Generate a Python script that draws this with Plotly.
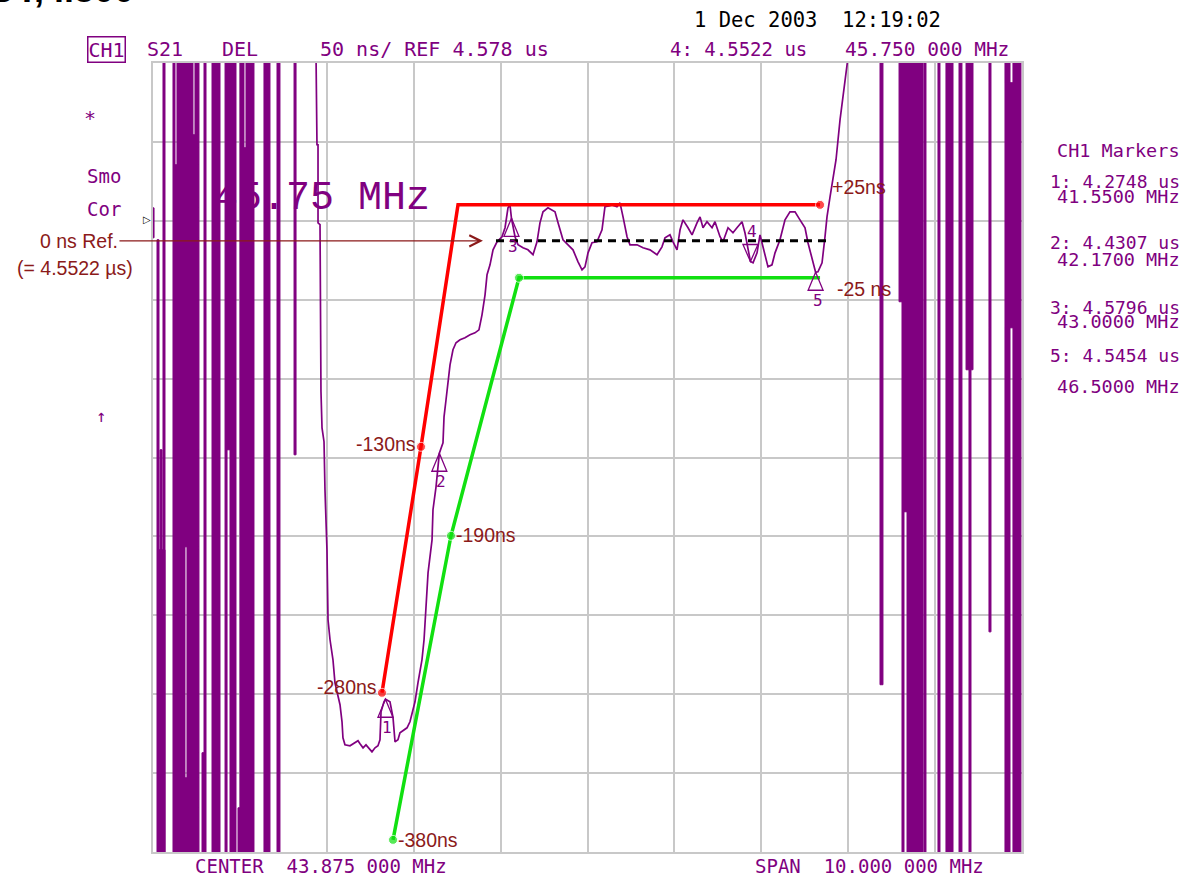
import plotly.graph_objects as go

# ---------------- data ----------------
CENTER_MHZ = 43.875
SPAN_MHZ = 10.0
REF_NS = 4578.0          # reference value (4.578 us)
SCALE_NS = 50.0          # ns / division
REF_POS = 8              # reference line position (division from bottom)

# measured group-delay trace (MHz, ns)
trace_f = [40.751, 40.762, 40.774, 40.774, 40.797, 40.808, 40.820, 40.843, 40.854, 40.877,
           40.889, 40.912, 40.946, 40.969, 41.027, 41.050, 41.061, 41.084, 41.142, 41.200,
           41.234, 41.257, 41.292, 41.326, 41.361, 41.395, 41.430, 41.464, 41.487, 41.499,
           41.533, 41.550, 41.602, 41.637, 41.660, 41.694, 41.717, 41.763, 41.798, 41.832,
           41.855, 41.890, 41.924, 41.970, 41.994, 42.017, 42.040, 42.086, 42.097, 42.132,
           42.170, 42.212, 42.224, 42.247, 42.270, 42.293, 42.327, 42.362, 42.408, 42.465,
           42.523, 42.580, 42.626, 42.661, 42.696, 42.719, 42.753, 42.788, 42.834, 42.891,
           42.926, 42.960, 42.983, 43.000, 43.041, 43.075, 43.133, 43.190, 43.248, 43.294,
           43.328, 43.363, 43.420, 43.467, 43.501, 43.536, 43.593, 43.651, 43.708, 43.766,
           43.812, 43.846, 43.881, 43.927, 43.984, 44.042, 44.076, 44.122, 44.157, 44.214,
           44.249, 44.284, 44.330, 44.364, 44.445, 44.514, 44.594, 44.675, 44.732, 44.767,
           44.824, 44.859, 44.905, 44.940, 44.974, 45.032, 45.078, 45.135, 45.170, 45.204,
           45.250, 45.308, 45.342, 45.400, 45.434, 45.492, 45.549, 45.595, 45.653, 45.687,
           45.722, 45.750, 45.780, 45.826, 45.860, 45.895, 45.952, 45.998, 46.033, 46.090,
           46.148, 46.205, 46.263, 46.320, 46.378, 46.412, 46.458, 46.500, 46.527, 46.574,
           46.608, 46.631, 46.666, 46.700, 46.735, 46.781, 46.815, 46.861, 46.884]
trace_d = [4683.2, 4626.2, 4626.2, 4576.7, 4575.5, 4469.6, 4446.8, 4438.0, 4407.5, 4369.5,
           4325.2, 4312.5, 4299.8, 4285.2, 4271.3, 4260.5, 4250.4, 4245.9, 4245.3, 4247.2,
           4248.5, 4246.6, 4244.0, 4245.9, 4243.4, 4241.5, 4244.0, 4245.3, 4249.1, 4266.9,
           4273.2, 4274.8, 4273.2, 4263.1, 4247.8, 4249.1, 4253.5, 4255.4, 4256.7, 4260.5,
           4265.0, 4273.2, 4285.2, 4299.8, 4312.5, 4337.8, 4354.9, 4375.8, 4394.9, 4409.4,
           4430.7, 4437.3, 4453.8, 4464.6, 4477.2, 4486.7, 4496.3, 4500.7, 4502.6, 4503.9,
           4505.8, 4507.0, 4508.9, 4518.4, 4531.1, 4543.8, 4550.1, 4559.6, 4564.7, 4567.9,
           4573.6, 4586.2, 4588.1, 4579.6, 4567.9, 4562.8, 4560.9, 4559.6, 4556.5, 4564.7,
           4576.7, 4583.7, 4586.2, 4585.0, 4583.7, 4576.7, 4566.0, 4562.8, 4559.6, 4552.0,
           4546.9, 4548.8, 4557.7, 4564.1, 4564.7, 4572.3, 4586.9, 4587.5, 4588.1, 4586.9,
           4589.4, 4580.5, 4567.9, 4562.8, 4562.8, 4560.9, 4559.6, 4556.5, 4561.5, 4567.2,
           4569.1, 4564.7, 4559.6, 4572.3, 4578.6, 4573.6, 4569.1, 4576.7, 4580.5, 4573.6,
           4577.4, 4573.6, 4577.4, 4567.9, 4564.7, 4573.6, 4570.4, 4573.6, 4577.4, 4570.4,
           4561.5, 4552.2, 4551.4, 4557.7, 4569.1, 4561.5, 4548.8, 4550.1, 4557.7, 4566.0,
           4578.6, 4583.7, 4583.7, 4578.6, 4573.6, 4564.1, 4555.2, 4545.4, 4545.7, 4551.4,
           4567.9, 4580.5, 4593.2, 4605.9, 4616.7, 4642.0, 4657.8, 4678.1, 4686.4]

# out-of-band noise strokes: (f_start, f_end, delay_low, delay_high)
noise_f0 = [38.864, 38.921, 38.990, 38.933, 38.956, 39.105, 39.128, 39.151, 39.243, 39.243,
            39.266, 39.335, 39.358, 39.439, 39.462, 39.554, 39.704, 39.727, 39.761, 39.853,
            39.876, 39.899, 39.922, 39.945, 40.152, 40.302, 40.498,
            47.241, 47.460, 47.494, 47.517, 47.552, 47.747, 47.908, 48.000, 48.150, 48.231,
            48.265, 48.495, 48.679, 48.737, 48.771]
noise_f1 = [38.887, 38.944, 39.013, 39.013, 38.979, 39.128, 39.163, 39.243, 39.266, 39.266,
            39.335, 39.358, 39.404, 39.462, 39.485, 39.646, 39.727, 39.761, 39.830, 39.899,
            39.899, 39.922, 39.945, 40.037, 40.221, 40.336, 40.521,
            47.275, 47.552, 47.517, 47.552, 47.736, 47.770, 47.931, 48.081, 48.184, 48.311,
            48.288, 48.518, 48.737, 48.771, 48.863]
noise_lo = [4567.2, 4150, 4150, 4150, 4369.5, 4150, 4150, 4150, 4371.4, 4150,
            4150, 4150, 4150, 4150, 4150, 4150, 4150, 4432.9, 4150, 4150,
            4150, 4150, 4150, 4150, 4150, 4150, 4429.7,
            4284.0, 4526.7, 4150, 4393.6, 4150, 4150, 4150, 4150, 4150, 4483.6,
            4150, 4317.5, 4150, 4510.2, 4150]
noise_hi = [4586.2, 4566.0, 4700, 4369.5, 4432.9, 4700, 4613.5, 4700, 4700, 4225.0,
            4700, 4632.5, 4700, 4240.9, 4700, 4700, 4700, 4700, 4700, 4206.0,
            4700, 4700, 4624.3, 4700, 4700, 4700, 4700,
            4700, 4700, 4526.7, 4526.7, 4700, 4700, 4700, 4700, 4700, 4700,
            4483.6, 4700, 4700, 4665.5, 4700]

# markers
marker_id = [1, 2, 3, 4, 5]
marker_f = [41.55, 42.17, 43.00, 45.75, 46.50]
marker_d = [4274.8, 4430.7, 4579.6, 4552.2, 4545.4]
ACTIVE = 4

# limit (mask) lines
red_f = [41.510, 41.959, 42.385, 46.551]
red_d = [4278.9, 4434.8, 4588.1, 4588.1]
red_dot = [True, True, False, True]
red_lbl = ["-280ns", "-130ns", "", "+25ns"]
green_f = [41.637, 42.304, 43.087, 46.551]
green_d = [4185.7, 4378.4, 4541.9, 4541.9]
green_dot = [True, True, True, False]
green_lbl = ["-380ns", "-190ns", "", "-25 ns"]
zero_ref_f = [42.822, 46.620]
zero_ref_d = [4565.3, 4565.3]
ZERO_REF_US = 4.5522

# ---------------- styling ----------------
W, H = 1189, 877
L, R, T, B = 153, 1022, 63, 852
PURPLE = "#800080"
DRED = "#8b1a1a"
MONO = "DejaVu Sans Mono"
SANS = "Liberation Sans, Arial"

fmin = CENTER_MHZ - SPAN_MHZ / 2
fmax = CENTER_MHZ + SPAN_MHZ / 2
dmin = REF_NS - REF_POS * SCALE_NS
dmax = dmin + 10 * SCALE_NS

fig = go.Figure()

# noise strokes as filled rectangles
nx, ny = [], []
for a, b, lo, hi in zip(noise_f0, noise_f1, noise_lo, noise_hi):
    nx += [a, b, b, a, a, None]
    ny += [lo, lo, hi, hi, lo, None]
fig.add_trace(go.Scatter(x=nx, y=ny, mode="lines", fill="toself", fillcolor=PURPLE,
                         line=dict(color=PURPLE, width=1), hoverinfo="skip", showlegend=False))

fig.add_trace(go.Scatter(x=trace_f, y=trace_d, mode="lines",
                         line=dict(color=PURPLE, width=1.7), showlegend=False))

fig.add_trace(go.Scatter(x=zero_ref_f, y=zero_ref_d, mode="lines",
                         line=dict(color="black", width=3, dash="8px,6px"), showlegend=False))

for fx, dy, dots, col in [(red_f, red_d, red_dot, "#ff0000"), (green_f, green_d, green_dot, "#11e011")]:
    fig.add_trace(go.Scatter(x=fx, y=dy, mode="lines+markers",
                             line=dict(color=col, width=3.5),
                             marker=dict(size=[9 if s else 0 for s in dots], color=col),
                             showlegend=False))

shapes = [dict(type="line", xref="paper", yref="y", x0=0, x1=1, y0=REF_NS, y1=REF_NS,
               line=dict(color="#222222", width=1.6), layer="below")]
for mid, mf, md in zip(marker_id, marker_f, marker_d):
    if mid == ACTIVE:
        path = "M0,0L-7.5,17L7.5,17Z"
    else:
        path = "M0,0L-7.5,-18L7.5,-18Z"
    shapes.append(dict(type="path", xref="x", yref="y", xsizemode="pixel", ysizemode="pixel",
                       xanchor=mf, yanchor=md, path=path, line=dict(color=PURPLE, width=1.3)))


def px(x):
    return (x - L) / (R - L)


def py(y):
    return (B - y) / (B - T)


def ann(text, x, y, xanchor="left", size=19, color=PURPLE, family=MONO, **kw):
    return dict(text=text, x=px(x), y=py(y), xref="paper", yref="paper", xanchor=xanchor,
                yanchor="middle", showarrow=False, font=dict(family=family, size=size, color=color), **kw)


annotations = []
# mask labels (offsets in pixels)
lbl_pos = {"-280ns": ("right", -3, 6), "-130ns": ("right", -3, 3), "+25ns": ("left", 10, 18),
           "-25 ns": ("left", 15, -11), "-380ns": ("left", 3, 0), "-190ns": ("left", 3, 1)}
for fx, dy, lbl in [(red_f, red_d, red_lbl), (green_f, green_d, green_lbl)]:
    for f, d, t in zip(fx, dy, lbl):
        if not t:
            continue
        xa, xs, ys = lbl_pos[t]
        annotations.append(dict(text=t, x=f, y=d, xref="x", yref="y", xanchor=xa, yanchor="middle",
                                xshift=xs, yshift=ys, showarrow=False,
                                font=dict(family=SANS, size=19.5, color=DRED)))

# marker numbers
for mid, mf, md in zip(marker_id, marker_f, marker_d):
    annotations.append(dict(text=str(mid), x=mf, y=md, xref="x", yref="y", showarrow=False,
                            xshift=2, yshift=(30 if mid == ACTIVE else -28),
                            font=dict(family=MONO, size=16, color=PURPLE)))

# 0 ns reference arrow
annotations.append(dict(text="", x=42.672, y=zero_ref_d[0], xref="x", yref="y", showarrow=True,
                        ax=-365, ay=0, arrowhead=5, arrowsize=1.7, arrowwidth=1.3, arrowcolor=DRED))
annotations.append(ann("0 ns Ref.", 120, 241, xanchor="right", size=19.5, color=DRED, family=SANS))
annotations.append(ann("(= %.4f \u00b5s)" % ZERO_REF_US, 75, 268, xanchor="center",
                       size=19.5, color=DRED, family=SANS))

# big frequency label
annotations.append(ann("%.2f MHz" % marker_f[3], 212, 199, size=40, family="Liberation Mono"))

# header
annotations.append(ann("1 Dec 2003  12:19:02", 692, 20, size=20.5, color="black"))
annotations.append(ann("CH1", 87, 49, size=20, bordercolor=PURPLE, borderwidth=1.5, borderpad=0))
annotations.append(ann("S21", 145, 49, size=20))
annotations.append(ann("DEL", 220, 49, size=20))
annotations.append(ann("%d ns/ REF %.3f us" % (SCALE_NS, REF_NS / 1000), 318, 49, size=20))
annotations.append(ann("%d: %.4f us" % (ACTIVE, marker_d[3] / 1000), 668, 49, size=19))
annotations.append(ann("%.3f 000 MHz" % marker_f[3], 843, 49, size=19.5))

# left status
annotations.append(ann("*", 90, 118, xanchor="center", size=20))
annotations.append(ann("Smo", 85, 176))
annotations.append(ann("Cor", 85, 209))
annotations.append(ann("\u2191", 101, 416, xanchor="center", size=17))
annotations.append(ann("\u25b7", 147, 220, xanchor="center", size=10, color="black", family="DejaVu Sans"))

# right marker table
annotations.append(ann("CH1 Markers", 1182, 150, xanchor="right", size=18.5))
rows_y = {1: (181, 197), 2: (243, 259), 3: (307, 321), 5: (355, 386)}
for mid, mf, md in zip(marker_id, marker_f, marker_d):
    if mid == ACTIVE:
        continue
    y1, y2 = rows_y[mid]
    annotations.append(ann("%d: %.4f us" % (mid, md / 1000), 1182, y1, xanchor="right", size=18))
    annotations.append(ann("%.4f MHz" % mf, 1182, y2, xanchor="right", size=18.5))

# footer
annotations.append(ann("CENTER  %.3f 000 MHz" % CENTER_MHZ, 193, 866))
annotations.append(ann("SPAN  %.3f 000 MHz" % SPAN_MHZ, 753, 866))

# cut-off page title
annotations.append(dict(text="<b>DT, ll800</b>", x=px(-12), y=py(12), xref="paper", yref="paper",
                        xanchor="left", yanchor="bottom", showarrow=False,
                        font=dict(family=SANS, size=36, color="black")))

axis_common = dict(showgrid=True, gridcolor="#c8c8c8", gridwidth=2, showticklabels=False, ticks="",
                   zeroline=False, showline=True, linecolor="#c8c8c8", linewidth=2, mirror=True)

fig.update_layout(
    width=W, height=H,
    margin=dict(l=L, r=W - R, t=T, b=H - B, pad=0),
    paper_bgcolor="white", plot_bgcolor="white",
    xaxis=dict(range=[fmin, fmax], tick0=fmin, dtick=SPAN_MHZ / 10, **axis_common),
    yaxis=dict(range=[dmin, dmax], tick0=dmin, dtick=SCALE_NS, **axis_common),
    shapes=shapes, annotations=annotations, showlegend=False,
)

fig.write_html("out.html", config={"displayModeBar": False},
               post_script="document.body.style.margin='0';document.body.style.overflow='hidden';")
